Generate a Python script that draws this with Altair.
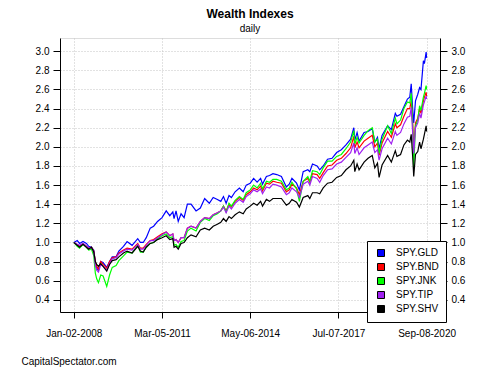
import altair as alt
import pandas as pd

FONT = "Liberation Sans"

dates = [
    "2008-01-02", "2008-02-15", "2008-03-17", "2008-05-01", "2008-06-15", "2008-07-15",
    "2008-08-20", "2008-09-20", "2008-10-10", "2008-10-28", "2008-11-20", "2008-12-20",
    "2009-01-20", "2009-03-09", "2009-04-15", "2009-05-20", "2009-07-10", "2009-08-15",
    "2009-10-15", "2009-12-01", "2010-02-05", "2010-04-20", "2010-05-25", "2010-07-01",
    "2010-08-10", "2010-10-01", "2010-11-15", "2011-01-05", "2011-03-05", "2011-04-29",
    "2011-06-15", "2011-07-25", "2011-08-10", "2011-09-05", "2011-10-04", "2011-11-10",
    "2011-12-20", "2012-02-01", "2012-03-20", "2012-05-25", "2012-07-20", "2012-09-15",
    "2012-11-15", "2013-01-05", "2013-03-01", "2013-04-15", "2013-05-20", "2013-06-24",
    "2013-08-01", "2013-09-01", "2013-10-20", "2013-12-15", "2014-02-03", "2014-03-15",
    "2014-05-06", "2014-06-20", "2014-08-05", "2014-09-20", "2014-10-15", "2014-12-05",
    "2015-01-15", "2015-03-01", "2015-04-20", "2015-06-20", "2015-08-24", "2015-10-01",
    "2015-11-05", "2016-01-05", "2016-02-11", "2016-04-01", "2016-06-01", "2016-06-27",
    "2016-08-01", "2016-10-01", "2016-11-04", "2016-12-20", "2017-02-15", "2017-04-15",
    "2017-06-15", "2017-08-15", "2017-10-15", "2017-12-15", "2018-01-26", "2018-02-08",
    "2018-03-10", "2018-04-05", "2018-06-10", "2018-08-01", "2018-09-25", "2018-10-29",
    "2018-12-03", "2018-12-24", "2019-02-01", "2019-04-15", "2019-06-03", "2019-07-25",
    "2019-08-15", "2019-10-02", "2019-11-15", "2019-12-31", "2020-01-31", "2020-02-19",
    "2020-03-09", "2020-03-23", "2020-04-15", "2020-05-15", "2020-06-08", "2020-06-26",
    "2020-07-28", "2020-08-10", "2020-09-02", "2020-09-08",
]

spy_gld = [
    1.00, 1.02, 0.99, 1.01, 0.99, 0.96, 0.95, 0.92, 0.79, 0.73, 0.71, 0.80,
    0.79, 0.74, 0.80, 0.85, 0.85, 0.91, 0.96, 1.01, 0.97, 1.04, 1.00, 1.00,
    1.05, 1.15, 1.17, 1.22, 1.26, 1.33, 1.28, 1.32, 1.25, 1.33, 1.22, 1.30,
    1.26, 1.40, 1.40, 1.33, 1.36, 1.46, 1.41, 1.47, 1.45, 1.43, 1.48, 1.41,
    1.49, 1.47, 1.53, 1.57, 1.53, 1.60, 1.62, 1.67, 1.63, 1.67, 1.61, 1.69,
    1.70, 1.72, 1.71, 1.69, 1.58, 1.61, 1.67, 1.62, 1.55, 1.74, 1.76, 1.74,
    1.82, 1.80, 1.76, 1.80, 1.87, 1.88, 1.94, 1.97, 2.02, 2.08, 2.20, 2.07,
    2.15, 2.06, 2.15, 2.16, 2.19, 2.05, 2.10, 1.98, 2.12, 2.22, 2.18, 2.35,
    2.32, 2.34, 2.42, 2.50, 2.52, 2.66, 2.40, 2.25, 2.48, 2.55, 2.62, 2.60,
    2.90, 2.87, 2.99, 2.93,
]
spy_bnd = [
    1.00, 0.98, 0.96, 0.99, 0.96, 0.94, 0.95, 0.91, 0.80, 0.75, 0.72, 0.80,
    0.77, 0.73, 0.80, 0.84, 0.85, 0.89, 0.92, 0.94, 0.93, 0.99, 0.94, 0.94,
    0.98, 1.02, 1.03, 1.06, 1.09, 1.11, 1.07, 1.09, 1.02, 1.03, 1.00, 1.05,
    1.05, 1.15, 1.17, 1.15, 1.22, 1.26, 1.25, 1.29, 1.31, 1.33, 1.38, 1.33,
    1.40, 1.37, 1.43, 1.47, 1.44, 1.50, 1.53, 1.57, 1.55, 1.59, 1.54, 1.62,
    1.61, 1.64, 1.63, 1.62, 1.53, 1.55, 1.61, 1.57, 1.50, 1.64, 1.67, 1.63,
    1.72, 1.71, 1.67, 1.73, 1.80, 1.81, 1.86, 1.88, 1.93, 1.99, 2.11, 1.99,
    2.05, 1.99, 2.06, 2.09, 2.12, 2.00, 2.04, 1.91, 2.04, 2.16, 2.10, 2.24,
    2.20, 2.23, 2.32, 2.40, 2.40, 2.48, 2.25, 1.98, 2.25, 2.30, 2.40, 2.35,
    2.48, 2.52, 2.57, 2.53,
]
spy_jnk = [
    1.00, 0.96, 0.94, 0.98, 0.95, 0.92, 0.93, 0.86, 0.68, 0.62, 0.58, 0.66,
    0.65, 0.54, 0.66, 0.74, 0.76, 0.81, 0.86, 0.90, 0.89, 0.97, 0.90, 0.90,
    0.95, 0.99, 1.00, 1.04, 1.07, 1.09, 1.05, 1.06, 0.97, 0.98, 0.95, 1.01,
    1.02, 1.12, 1.15, 1.12, 1.21, 1.25, 1.23, 1.28, 1.30, 1.33, 1.38, 1.32,
    1.41, 1.38, 1.44, 1.48, 1.45, 1.52, 1.55, 1.60, 1.57, 1.62, 1.56, 1.64,
    1.63, 1.66, 1.66, 1.64, 1.55, 1.57, 1.63, 1.56, 1.43, 1.64, 1.69, 1.64,
    1.75, 1.74, 1.71, 1.78, 1.85, 1.85, 1.90, 1.92, 1.98, 2.05, 2.17, 2.03,
    2.10, 2.04, 2.12, 2.17, 2.20, 2.05, 2.08, 1.93, 2.08, 2.22, 2.14, 2.30,
    2.24, 2.28, 2.40, 2.47, 2.46, 2.56, 2.22, 1.79, 2.22, 2.28, 2.43, 2.38,
    2.52, 2.56, 2.64, 2.60,
]
spy_tip = [
    1.00, 0.98, 0.97, 0.99, 0.96, 0.94, 0.95, 0.90, 0.76, 0.71, 0.69, 0.77,
    0.75, 0.71, 0.78, 0.83, 0.84, 0.88, 0.91, 0.93, 0.92, 0.98, 0.93, 0.93,
    0.97, 1.02, 1.02, 1.05, 1.08, 1.11, 1.07, 1.09, 1.02, 1.03, 1.00, 1.05,
    1.05, 1.15, 1.17, 1.15, 1.22, 1.26, 1.25, 1.29, 1.31, 1.33, 1.37, 1.31,
    1.38, 1.35, 1.41, 1.45, 1.42, 1.48, 1.51, 1.55, 1.53, 1.56, 1.51, 1.58,
    1.57, 1.61, 1.60, 1.58, 1.50, 1.52, 1.57, 1.53, 1.47, 1.61, 1.64, 1.60,
    1.69, 1.67, 1.63, 1.70, 1.76, 1.77, 1.82, 1.84, 1.89, 1.94, 2.04, 1.93,
    1.99, 1.92, 1.99, 2.02, 2.05, 1.94, 1.97, 1.86, 1.98, 2.09, 2.03, 2.16,
    2.12, 2.15, 2.24, 2.31, 2.32, 2.41, 2.15, 1.93, 2.20, 2.25, 2.35, 2.30,
    2.44, 2.47, 2.53, 2.50,
]
spy_shv = [
    1.00, 0.97, 0.95, 0.98, 0.95, 0.93, 0.95, 0.90, 0.80, 0.77, 0.75, 0.78,
    0.75, 0.70, 0.77, 0.81, 0.82, 0.85, 0.89, 0.91, 0.89, 0.96, 0.91, 0.90,
    0.95, 0.99, 1.00, 1.03, 1.05, 1.07, 1.03, 1.04, 0.95, 0.96, 0.93, 0.99,
    1.00, 1.05, 1.08, 1.06, 1.13, 1.15, 1.13, 1.17, 1.19, 1.21, 1.25, 1.22,
    1.27, 1.25, 1.29, 1.32, 1.30, 1.35, 1.38, 1.41, 1.39, 1.43, 1.38, 1.45,
    1.43, 1.46, 1.46, 1.46, 1.39, 1.41, 1.45, 1.42, 1.37, 1.47, 1.49, 1.46,
    1.52, 1.52, 1.51, 1.57, 1.62, 1.63, 1.68, 1.70, 1.76, 1.80, 1.86, 1.74,
    1.82, 1.76, 1.84, 1.88, 1.91, 1.78, 1.83, 1.68, 1.81, 1.91, 1.84, 1.96,
    1.90, 1.92, 2.02, 2.07, 2.05, 2.13, 1.90, 1.69, 1.92, 1.95, 2.05, 1.98,
    2.08, 2.13, 2.22, 2.16,
]

series_names = ["SPY.GLD", "SPY.BND", "SPY.JNK", "SPY.TIP", "SPY.SHV"]
series_colors = ["#0000FF", "#FF0000", "#00FF00", "#A020F0", "#000000"]
series_values = [spy_gld, spy_bnd, spy_jnk, spy_tip, spy_shv]

x_tick_dates = [(2008, 1, 2), (2011, 3, 5), (2014, 5, 6), (2017, 7, 7), (2020, 9, 8)]
y_ticks = [0.4, 0.6, 0.8, 1.0, 1.2, 1.4, 1.6, 1.8, 2.0, 2.2, 2.4, 2.6, 2.8, 3.0]

rows = []
for name, vals in zip(series_names, series_values):
    for d, v in zip(dates, vals):
        rows.append({"date": d, "series": name, "value": v})
df = pd.DataFrame(rows)

x_scale = alt.Scale(domain=[alt.DateTime(year=2007, month=7, date=4),
                            alt.DateTime(year=2021, month=3, date=3)])
y_scale = alt.Scale(domain=[0.273, 3.138], nice=False, zero=False)

# legend (fill) scale in legend order
fill_scale = alt.Scale(domain=series_names, range=series_colors)
# line (stroke) scale: same mapping, listed in sorted order
pairs = sorted(zip(series_names, series_colors))
stroke_scale = alt.Scale(domain=[p[0] for p in pairs], range=[p[1] for p in pairs])

x_axis = alt.Axis(
    values=[alt.DateTime(year=y, month=m, date=d) for (y, m, d) in x_tick_dates],
    format="%b-%d-%Y", labelFont=FONT, labelFontSize=10, labelColor="black",
    labelOverlap=False, labelFlush=False, tickSize=6, tickColor="black",
    domainColor="black", labelPadding=10,
    grid=True, gridColor="#c4c4c4", gridDash=[1, 2],
    title="CapitalSpectator.com", titleFont=FONT, titleFontSize=10,
    titleFontWeight="normal", titleColor="black", titleAlign="left",
    titleBaseline="middle", titleX=-39, titleY=49,
)
y_axis_left = alt.Axis(
    values=y_ticks, format=".1f", orient="left", labelFont=FONT, labelFontSize=10,
    labelColor="black", tickSize=7, tickColor="black", domainColor="black",
    labelPadding=4, grid=True, gridColor="#c4c4c4", gridDash=[1, 2], title=None,
)
y_axis_right = alt.Axis(
    values=y_ticks, format=".1f", orient="right", labelFont=FONT, labelFontSize=10,
    labelColor="black", tickSize=7, tickColor="black", domainColor="black",
    labelPadding=4, grid=False, title=None,
)

lines = alt.Chart(df).mark_line(strokeWidth=1.2).encode(
    x=alt.X("date:T", scale=x_scale, axis=x_axis),
    y=alt.Y("value:Q", scale=y_scale, axis=y_axis_left),
    stroke=alt.Stroke("series:N", scale=stroke_scale, legend=None),
    order=alt.Order("date:T"),
)

legend_layer = alt.Chart(df).transform_filter("false").mark_square(opacity=1).encode(
    y=alt.Y("value:Q", scale=y_scale, axis=y_axis_right),
    fill=alt.Fill(
        "series:N", scale=fill_scale,
        legend=alt.Legend(
            orient="none", legendX=307, legendY=203, title=None,
            fillColor="white", strokeColor="black", padding=7,
            symbolType="square", symbolSize=49, symbolStrokeColor="black",
            symbolStrokeWidth=1, symbolOffset=2, labelOffset=10, symbolOpacity=1,
            labelFont=FONT, labelFontSize=10, labelColor="black", rowPadding=2,
        ),
    ),
)

chart = alt.layer(lines, legend_layer).resolve_scale(y="shared").resolve_axis(
    y="independent"
).properties(
    width=380, height=274,
    autosize=alt.AutoSizeParams(type="none"),
    padding={"left": 52, "top": 30, "right": 52, "bottom": 55},
    title=alt.TitleParams(
        "Wealth Indexes", subtitle="daily", font=FONT, fontSize=12,
        fontWeight="bold", color="black", subtitleFont=FONT, subtitleFontSize=10,
        subtitleColor="black", subtitlePadding=3, anchor="middle", offset=3,
    ),
).configure_view(stroke="black", strokeWidth=1).configure(background="white")

chart.save("out.html", embed_options={"renderer": "svg", "actions": False})
